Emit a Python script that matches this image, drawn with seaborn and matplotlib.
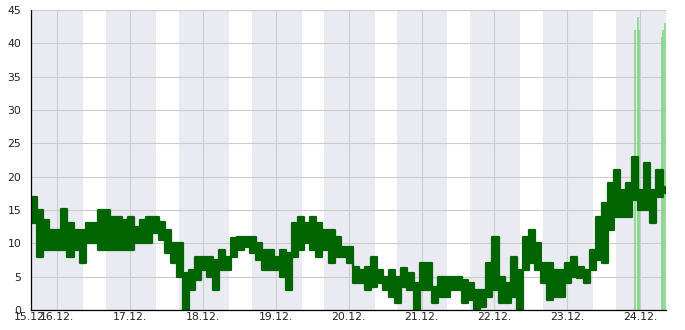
import numpy as np
import pandas as pd
import matplotlib
matplotlib.use("Agg")
import matplotlib.pyplot as plt
import seaborn as sns

# ---- data (hours counted from 15.12. 00:00) ----
start_hour = 15.35          # first reading (15.12. ~15:20)
end_hour = 224.5            # last reading (24.12. ~08:30)
bin_hours = 2.0             # each bin: lowest and highest reading

low_values = [13, 8, 9, 9, 9, 9, 8, 9, 7, 10,
              10, 9, 9, 9, 9, 9, 9, 10, 10, 10,
              11.5, 10.5, 8.5, 7, 5, 0, 3, 4.5, 6, 5,
              3, 6, 6, 8, 9, 9.5, 8.5, 7.5, 6, 6,
              6, 5, 3, 8, 9, 10, 9, 8, 9, 7,
              8, 8, 7, 4, 4, 3, 3.5, 4, 3, 2,
              1, 3.5, 3, 0, 3, 3, 1, 2, 2, 3,
              3, 1, 1.5, 0, 0.5, 2, 3, 1, 1, 2,
              0, 6, 7, 6, 4, 1.5, 2, 2, 4, 5,
              4.8, 4, 6, 7.5, 7, 12, 14, 14, 14, 16.5,
              15, 15, 13, 17, 17.5]
high_values = [17, 15, 13.5, 12, 12, 15.2, 13, 12, 12, 13,
               13, 15, 15, 14, 14, 13.5, 14, 12.5, 13.5, 14,
               14, 13.2, 12, 10, 10, 5.5, 6, 8, 8, 8,
               7.5, 9, 8, 10.75, 11, 11, 11, 10, 9, 9,
               8, 9, 8.5, 13, 14, 13, 14, 13, 12, 12,
               11, 9.5, 9.5, 6.5, 6, 6.5, 8, 6, 5, 6,
               5, 6.25, 5.5, 4, 7, 7, 3.5, 5, 5, 5,
               5, 4.5, 4, 3, 3, 7, 10.9, 5, 4, 8,
               6, 11, 12, 10, 7, 7, 6, 6, 7, 8,
               6.5, 6, 9, 14, 16, 19, 21, 18, 19, 23,
               18, 22, 18, 21, 18.5]

spike_hours = [214.3, 215.3, 215.7, 223.3, 223.6, 224.2]
spike_tops = [42, 44, 42, 41, 42, 43]

tick_hours = [start_hour, 24, 48, 72, 96, 120, 144, 168, 192, 216]
tick_labels = ["15.12.", "16.12.", "17.12.", "18.12.", "19.12.",
               "20.12.", "21.12.", "22.12.", "23.12.", "24.12."]

night_starts = [start_hour, 40, 64, 88, 112, 136, 160, 184, 208]
night_ends = [32.5, 56.5, 80.5, 104.5, 128.5, 152.5, 176.5, 200.5, end_hour]

# ---- tidy table of the band edges ----
bin_times = [start_hour + k * bin_hours for k in range(len(low_values))]
edge_times = bin_times + [end_hour]
edge_low = low_values + [low_values[-1]]
edge_high = high_values + [high_values[-1]]
df = pd.concat([
    pd.DataFrame({"hour": edge_times, "value": edge_low, "bound": "low"}),
    pd.DataFrame({"hour": edge_times, "value": edge_high, "bound": "high"}),
], ignore_index=True)

# ---- figure ----
sns.set_style("white")
plt.rcParams["font.family"] = ["DejaVu Sans"]
fig = plt.figure(figsize=(6.85, 3.3), dpi=100)
ax = fig.add_axes([31 / 685, 20 / 330, 635 / 685, 300 / 330])

for a, b in zip(night_starts, night_ends):
    ax.axvspan(a, b, color="#eaeaf2", zorder=0, lw=0)

ax.vlines(spike_hours, 0, spike_tops, color="#7dd47d", linewidth=1.1, zorder=1.5)

ax.fill_between(edge_times, edge_low, edge_high, step="post",
                color="#006400", lw=0, zorder=2)
sns.lineplot(data=df, x="hour", y="value", hue="bound", ax=ax,
             palette={"low": "#006400", "high": "#006400"},
             linewidth=1.6, drawstyle="steps-post", estimator=None,
             sort=False, legend=False, zorder=2.1)

ax.set_xlim(start_hour, end_hour)
ax.set_ylim(0, 45)
ax.set_xticks(tick_hours)
ax.set_xticklabels(tick_labels)
ax.set_yticks(np.arange(0, 46, 5))
ax.set_yticks(np.arange(0, 46, 1), minor=True)
ax.set_xlabel("")
ax.set_ylabel("")

ax.grid(True, which="major", color="#cccccc", linewidth=0.8, zorder=0.5)
ax.set_axisbelow(True)

for s in ["top", "right"]:
    ax.spines[s].set_visible(False)
for s in ["left", "bottom"]:
    ax.spines[s].set_color("black")
    ax.spines[s].set_linewidth(0.9)

ax.tick_params(axis="y", which="major", direction="in", length=2.5, width=0.8,
               color="black", labelsize=7.8, labelcolor="#222222", pad=7)
ax.tick_params(axis="y", which="minor", direction="in", length=2.2, width=0.7,
               color="black")
ax.tick_params(axis="x", which="major", direction="in", length=3.6, width=0.8,
               color="black", labelsize=7.8, labelcolor="#222222", pad=1.5)

fig.savefig("out.png", dpi=100)
